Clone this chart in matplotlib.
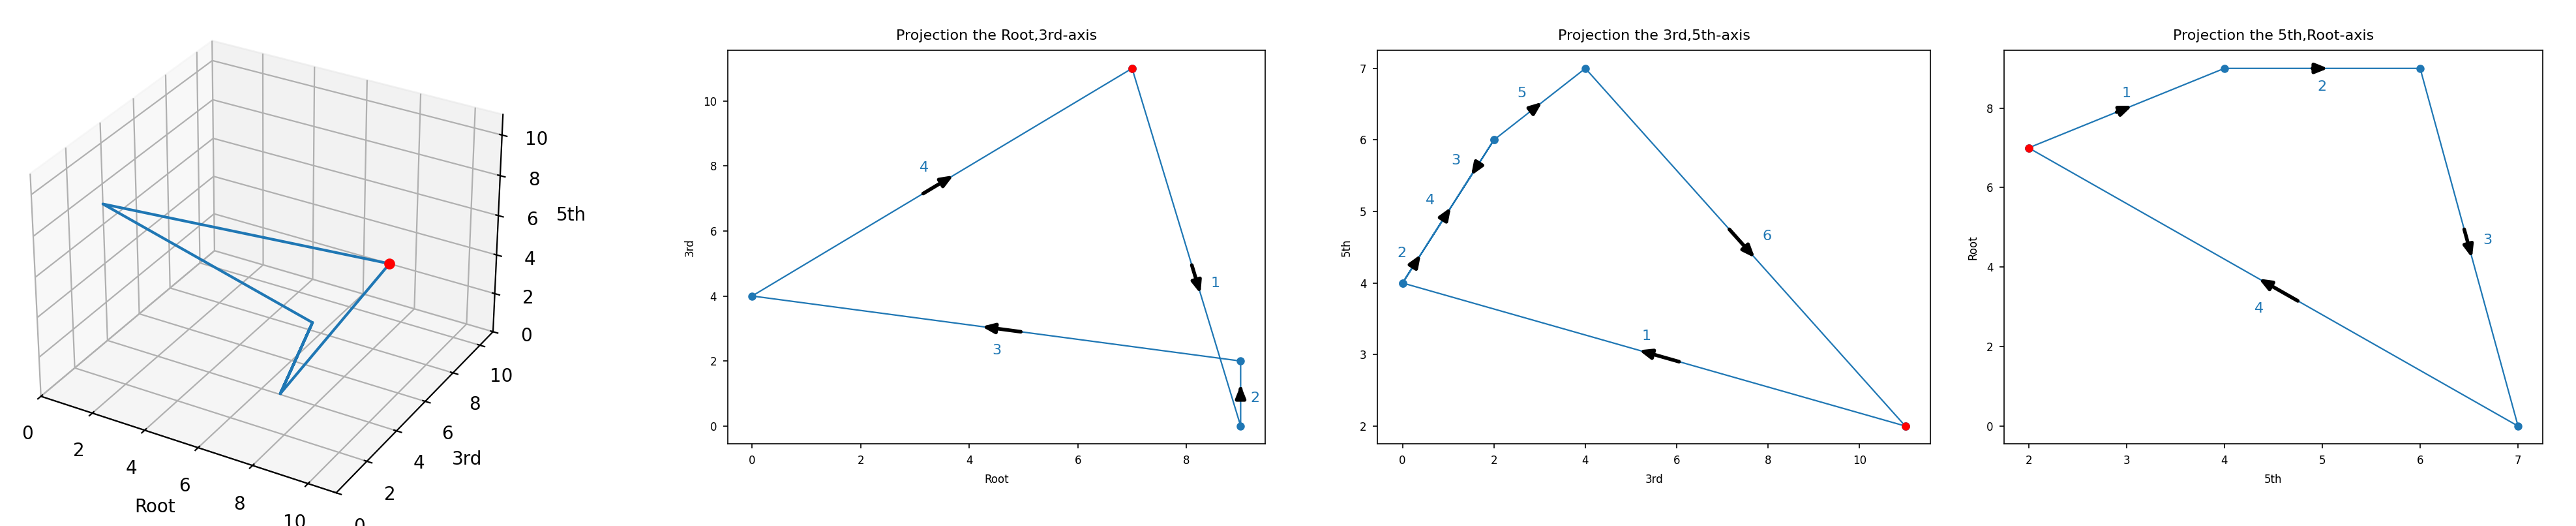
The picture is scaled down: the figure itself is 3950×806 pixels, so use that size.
import matplotlib
matplotlib.use("Agg")
import matplotlib.pyplot as plt
import numpy as np

# 3D path (Root, 3rd, 5th)
root3d = [7, 9, 9, 9, 9, 0, 7]
third3d = [11, 0, 2, 0, 2, 4, 11]
fifth3d = [2, 4, 6, 4, 6, 7, 2]

# Projections: paths
p1_x = [7, 9, 9, 0, 7]      # Root
p1_y = [11, 0, 2, 4, 11]    # 3rd
p2_x = [11, 0, 2, 0, 2, 4, 11]  # 3rd
p2_y = [2, 4, 6, 4, 6, 7, 2]    # 5th
p3_x = [2, 4, 6, 7, 2]      # 5th
p3_y = [7, 9, 9, 0, 7]      # Root

titles = ["Projection the Root,3rd-axis", "Projection the 3rd,5th-axis", "Projection the 5th,Root-axis"]
xlabels = ["Root", "3rd", "5th"]
ylabels = ["3rd", "5th", "Root"]
# arrow fraction along segments and label offsets (points)
fracs = [[0.6, 0.6, 0.5, 0.5],
         [0.5, 0.17, 0.22, 0.5, 0.5, 0.5],
         [0.5, 0.5, 0.5, 0.5]]
offs = [[(10, 0), (8, -6), (0, -12), (-10, 8)],
        [(-4, 10), (-9, 3), (-10, 6), (-10, 6), (-10, 6), (12, 6)],
        [(0, 8), (0, -10), (10, 4), (-8, -12)]]

fig = plt.figure(figsize=(19.75, 4.03), dpi=200)
ax0 = fig.add_axes([0.0, 0.0, 0.205, 1.0], projection='3d')
ax0.plot(root3d, third3d, fifth3d, color='C0', lw=1.5)
ax0.scatter([root3d[0]], [third3d[0]], [fifth3d[0]], color='red', s=25, depthshade=False)
ax0.set_xlim(0, 11); ax0.set_ylim(0, 11); ax0.set_zlim(0, 11)
ax0.set_xticks(range(0, 11, 2)); ax0.set_yticks(range(0, 11, 2)); ax0.set_zticks(range(0, 11, 2))
ax0.set_xlabel("Root", fontsize=10); ax0.set_ylabel("3rd", fontsize=10); ax0.set_zlabel("5th", fontsize=10)
ax0.tick_params(labelsize=10)

positions = [[0.2825, 0.156, 0.2086, 0.748], [0.5347, 0.156, 0.2147, 0.748], [0.778, 0.156, 0.209, 0.748]]
data = [(p1_x, p1_y), (p2_x, p2_y), (p3_x, p3_y)]
for i, (xs, ys) in enumerate(data):
    ax = fig.add_axes(positions[i])
    ax.plot(xs, ys, '-o', color='C0', lw=0.8, ms=3.5)
    ax.plot([xs[0]], [ys[0]], 'o', color='red', ms=3.5)
    for k in range(len(xs) - 1):
        x0, y0, x1, y1 = xs[k], ys[k], xs[k+1], ys[k+1]
        f = fracs[i][k]
        mx, my = x0 + f*(x1-x0), y0 + f*(y1-y0)
        dx, dy = x1-x0, y1-y0
        ax.annotate('', xy=(mx + 0.03*dx, my + 0.03*dy), xytext=(mx - 0.05*dx, my - 0.05*dy),
                    arrowprops=dict(arrowstyle='-|>,head_length=0.55,head_width=0.22', color='k', lw=2.0,
                                    shrinkA=0, shrinkB=0))
        ax.annotate(str(k+1), xy=(mx, my), xytext=offs[i][k], textcoords='offset points',
                    color='#1f77b4', fontsize=8, ha='center', va='center')
    ax.set_title(titles[i], fontsize=8)
    ax.set_xlabel(xlabels[i], fontsize=6)
    ax.set_ylabel(ylabels[i], fontsize=6)
    ax.tick_params(labelsize=6, length=2.5, width=0.6)
    for s in ax.spines.values():
        s.set_linewidth(0.6)

fig.savefig("out.png", dpi=200)
